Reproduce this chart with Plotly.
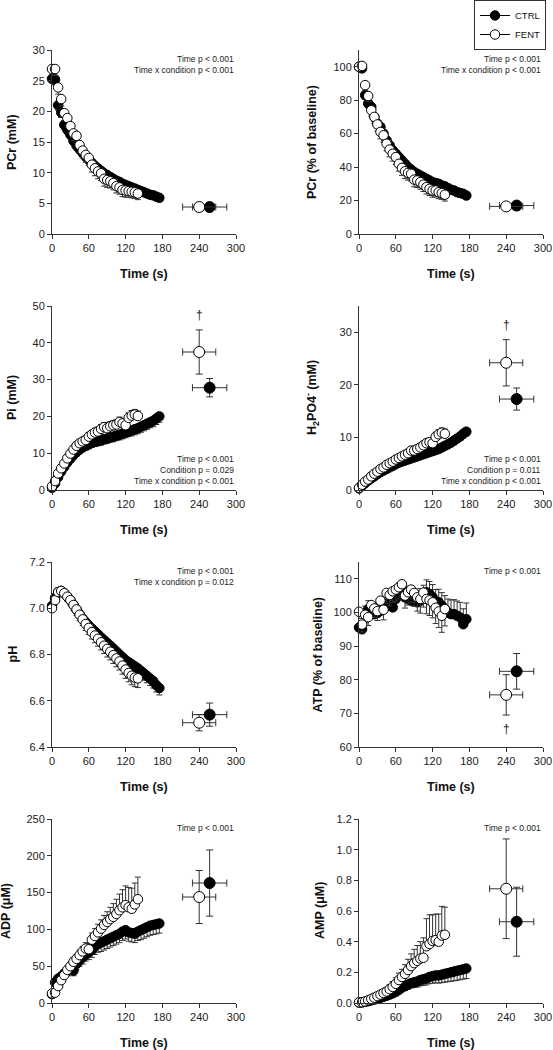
import plotly.graph_objects as go

W, H = 553, 1050

# ---------------- data ----------------
T_CTRL = [0, 5, 10, 15, 20, 25, 30, 35, 40, 45, 50, 55, 60, 65, 70, 75, 80, 85,
          90, 95, 100, 105, 110, 115, 120, 125, 130, 135, 140, 145, 150, 155, 160, 165, 170, 175]
T_FENT = [0, 5, 10, 15, 20, 25, 30, 35, 40, 45, 50, 55, 60, 65, 70, 75, 80, 85,
          90, 95, 100, 105, 110, 115, 120, 125, 130, 135, 140]
END_T_CTRL = 257
END_T_FENT = 240
END_TERR_CTRL = 28
END_TERR_FENT = 27
X_TICKS = [0, 60, 120, 180, 240, 300]

PCR_CTRL = [25.3, 25.2, 21.0, 19.8, 17.8, 17.0, 16.2, 15.2, 14.4, 13.8, 13.2, 12.6, 12.1, 11.6, 11.1, 10.7, 10.3, 9.9,
            9.6, 9.3, 9.0, 8.7, 8.5, 8.2, 8.0, 7.8, 7.6, 7.4, 7.2, 7.0, 6.8, 6.6, 6.4, 6.3, 6.1, 5.9]
PCR_CTRL_ERR = [0.9, 0.9, 0.8, 0.8, 0.8, 0.7, 0.7, 0.7, 0.7, 0.7, 0.6, 0.6, 0.6, 0.6, 0.6, 0.6, 0.6, 0.6,
                0.6, 0.6, 0.6, 0.6, 0.5, 0.5, 0.5, 0.5, 0.5, 0.5, 0.5, 0.5, 0.5, 0.5, 0.5, 0.5, 0.5, 0.5]
PCR_FENT = [26.9, 26.9, 23.9, 22.0, 19.7, 18.9, 17.6, 16.4, 16.0, 14.5, 13.6, 12.9, 12.4, 11.3, 10.7, 10.2, 9.9, 9.0,
            8.8, 8.6, 8.3, 7.8, 7.6, 7.2, 7.1, 7.0, 6.9, 6.8, 6.6]
PCR_FENT_ERR = [1.0, 1.0, 1.1, 1.1, 1.2, 1.2, 1.2, 1.2, 1.2, 1.2, 1.2, 1.2, 1.2, 1.2, 1.2, 1.2, 1.2, 1.2,
                1.2, 1.1, 1.1, 1.1, 1.1, 1.1, 1.1, 1.0, 1.0, 1.0, 1.0]
PCR_END = {"ctrl": (4.4, 0.6), "fent": (4.4, 0.6)}

PCT_CTRL = [100, 99, 83, 78, 76, 70, 66, 64, 60, 56, 53, 50, 48, 46, 44, 42, 40, 38.5,
            37, 36, 35, 34, 33, 32, 31, 30.5, 30, 29, 28.5, 27.5, 26.5, 26, 25, 24.5, 24, 23]
PCT_CTRL_ERR = [1.5, 2.0, 2.4, 2.5, 2.6, 2.6, 2.7, 2.7, 2.7, 2.8, 2.8, 2.8, 2.8, 2.8, 2.8, 2.8, 2.7, 2.7,
                2.7, 2.7, 2.6, 2.6, 2.6, 2.6, 2.5, 2.5, 2.5, 2.5, 2.4, 2.4, 2.4, 2.4, 2.3, 2.3, 2.3, 2.3]
PCT_FENT = [100, 100.5, 89, 82.5, 74, 70, 65.5, 61, 59, 54, 50.5, 48, 46, 42, 39.5, 37.5, 36.5, 36,
            32.5, 32, 31, 29.5, 28, 27, 26, 26, 25, 24.5, 23.5]
PCT_FENT_ERR = [2.0, 2.5, 3.0, 3.3, 3.6, 3.8, 4.0, 4.1, 4.2, 4.3, 4.3, 4.4, 4.4, 4.4, 4.4, 4.4, 4.3, 4.3,
                4.3, 4.2, 4.2, 4.1, 4.1, 4.0, 4.0, 3.9, 3.9, 3.8, 3.8]
PCT_END = {"ctrl": (17.0, 2.5), "fent": (16.5, 2.0)}

PI_CTRL = [0.6, 1.8, 3.5, 5.0, 6.3, 7.5, 8.5, 9.5, 10.3, 11.0, 11.6, 12.0, 12.4, 12.8, 13.1, 13.3, 13.5, 13.8,
           14.0, 14.3, 14.5, 14.8, 15.0, 15.3, 15.6, 15.9, 16.2, 16.5, 16.8, 17.2, 17.6, 18.0, 18.4, 18.8, 19.4, 20.0]
PI_CTRL_ERR = [0.3, 0.5, 0.7, 0.8, 0.9, 1.0, 1.0, 1.1, 1.1, 1.1, 1.2, 1.2, 1.2, 1.2, 1.3, 1.3, 1.3, 1.3,
               1.3, 1.3, 1.4, 1.4, 1.4, 1.4, 1.4, 1.4, 1.5, 1.5, 1.5, 1.5, 1.5, 1.5, 1.5, 1.6, 1.6, 1.6]
PI_FENT = [1.0, 2.4, 4.5, 5.9, 7.2, 8.6, 9.9, 11.0, 12.0, 12.7, 13.2, 13.6, 14.5, 15.1, 15.6, 15.9, 16.6, 17.1,
           16.8, 17.3, 17.6, 17.8, 18.5, 18.1, 17.6, 19.6, 20.2, 20.5, 20.1]
PI_FENT_ERR = [0.3, 0.5, 0.6, 0.7, 0.8, 0.9, 0.9, 1.0, 1.0, 1.0, 1.1, 1.1, 1.1, 1.1, 1.2, 1.2, 1.2, 1.2,
               1.2, 1.3, 1.3, 1.3, 1.3, 1.3, 1.4, 1.4, 1.4, 1.4, 1.4]
PI_END = {"ctrl": (27.8, 2.5), "fent": (37.5, 6.0)}

H2_CTRL = [0.3, 0.8, 1.3, 1.8, 2.2, 2.6, 3.0, 3.4, 3.7, 4.0, 4.3, 4.6, 4.9, 5.2, 5.4, 5.6, 5.8, 6.0,
           6.2, 6.4, 6.6, 6.8, 7.0, 7.2, 7.4, 7.6, 7.8, 8.1, 8.4, 8.7, 9.0, 9.4, 9.8, 10.2, 10.7, 11.1]
H2_CTRL_ERR = [0.1, 0.2, 0.2, 0.3, 0.3, 0.3, 0.4, 0.4, 0.4, 0.4, 0.5, 0.5, 0.5, 0.5, 0.5, 0.5, 0.6, 0.6,
               0.6, 0.6, 0.6, 0.6, 0.6, 0.6, 0.7, 0.7, 0.7, 0.7, 0.7, 0.7, 0.7, 0.8, 0.8, 0.8, 0.8, 0.8]
H2_FENT = [0.4, 1.0, 1.6, 2.0, 2.6, 3.1, 3.5, 4.0, 4.3, 4.8, 5.1, 5.4, 5.8, 6.1, 6.4, 6.7, 7.0, 7.5,
           7.5, 7.8, 8.1, 8.5, 8.9, 9.1, 8.9, 10.1, 10.6, 10.9, 10.7]
H2_FENT_ERR = [0.1, 0.2, 0.2, 0.3, 0.3, 0.3, 0.4, 0.4, 0.4, 0.5, 0.5, 0.5, 0.5, 0.6, 0.6, 0.6, 0.6, 0.7,
               0.7, 0.7, 0.7, 0.8, 0.8, 0.8, 0.8, 0.9, 0.9, 0.9, 0.9]
H2_END = {"ctrl": (17.3, 2.1), "fent": (24.2, 4.4)}

PH_CTRL = [7.010, 7.045, 7.070, 7.075, 7.065, 7.050, 7.035, 7.015, 6.995, 6.975, 6.955, 6.940, 6.925, 6.912,
           6.900, 6.887, 6.874, 6.862, 6.850, 6.838, 6.826, 6.813, 6.800, 6.788, 6.776, 6.767, 6.758, 6.749,
           6.740, 6.729, 6.718, 6.707, 6.696, 6.685, 6.668, 6.655]
PH_CTRL_ERR = [0.010, 0.010, 0.010, 0.012, 0.012, 0.013, 0.014, 0.015, 0.016, 0.017, 0.018, 0.019, 0.020, 0.020,
               0.021, 0.021, 0.022, 0.022, 0.023, 0.023, 0.024, 0.024, 0.025, 0.025, 0.026, 0.026, 0.027, 0.027,
               0.028, 0.028, 0.029, 0.029, 0.030, 0.030, 0.030, 0.030]
PH_FENT = [7.000, 7.035, 7.070, 7.075, 7.065, 7.050, 7.035, 7.014, 6.995, 6.972, 6.952, 6.932, 6.915, 6.897,
           6.882, 6.868, 6.853, 6.838, 6.824, 6.812, 6.797, 6.783, 6.770, 6.752, 6.735, 6.720, 6.708, 6.700, 6.697]
PH_FENT_ERR = [0.010, 0.012, 0.014, 0.016, 0.018, 0.020, 0.022, 0.024, 0.025, 0.026, 0.027, 0.028, 0.029, 0.030,
               0.031, 0.032, 0.033, 0.034, 0.035, 0.035, 0.036, 0.036, 0.037, 0.037, 0.038, 0.038, 0.039, 0.039, 0.040]
PH_END = {"ctrl": (6.54, 0.05), "fent": (6.505, 0.035)}

ATP_CTRL = [95.5, 95.0, 99.5, 101.0, 100.0, 99.5, 99.8, 100.5, 101.2, 102.5, 102.0, 101.5, 104.0, 105.5,
            106.0, 104.5, 104.0, 103.5, 103.5, 103.0, 103.5, 104.5, 106.0, 105.5, 104.5, 103.0, 103.0, 102.0,
            101.0, 100.0, 99.5, 99.5, 99.0, 98.5, 96.5, 98.0]
ATP_CTRL_ERR = [2.0, 2.2, 2.4, 2.5, 2.6, 2.7, 2.8, 2.9, 3.0, 3.0, 3.1, 3.1, 3.2, 3.2, 3.3, 3.3, 3.4, 3.4,
                3.5, 3.5, 3.6, 3.6, 3.7, 3.7, 3.8, 3.8, 3.9, 3.9, 4.0, 4.0, 4.2, 4.3, 4.4, 4.5, 4.6, 4.8]
ATP_FENT = [100.2, 96.4, 99.3, 98.6, 102.2, 101.2, 100.4, 103.5, 100.8, 105.8, 105.2, 106.3, 106.8, 107.5,
            108.4, 105.0, 106.0, 106.8, 105.8, 104.5, 104.0, 105.9, 104.0, 103.6, 103.0, 101.4, 100.3, 99.0, 101.0]
ATP_FENT_ERR = [2.0, 2.2, 2.4, 2.5, 2.6, 2.7, 2.8, 2.9, 3.0, 3.1, 3.2, 3.3, 3.4, 3.5, 3.6, 3.7, 3.8, 3.9,
                4.0, 4.1, 4.2, 4.3, 4.4, 4.5, 4.6, 4.7, 4.8, 4.9, 5.0]
ATP_END = {"ctrl": (82.5, 5.3), "fent": (75.5, 6.0)}

ADP_CTRL = [12, 28, 33, 36, 40, 43, 46, 44, 53, 58, 62, 66, 69, 72, 77, 80, 82, 84,
            86, 88, 90, 92, 94, 97, 99, 96, 95, 94, 97, 99, 101, 103, 105, 106, 107, 108]
ADP_CTRL_ERR = [2, 4, 5, 5, 6, 6, 7, 7, 8, 8, 9, 9, 10, 10, 11, 11, 12, 12,
                12, 12, 12, 12, 12, 12, 12, 12, 12, 12, 12, 13, 13, 13, 13, 13, 13, 13]
ADP_FENT = [13, 14, 23, 31, 38, 45, 50, 56, 60, 65, 70, 74, 73, 86, 91, 96, 101, 106,
            110, 114, 117, 121, 126, 130, 133, 130, 128, 134, 141]
ADP_FENT_ERR = [2, 2, 3, 4, 4, 5, 5, 6, 6, 7, 7, 8, 8, 9, 10, 11, 12, 13,
                14, 16, 18, 20, 22, 24, 26, 27, 28, 29, 30]
ADP_END = {"ctrl": (163, 45), "fent": (144, 36)}

AMP_CTRL = [0.002, 0.004, 0.008, 0.012, 0.017, 0.022, 0.028, 0.034, 0.040, 0.047, 0.055, 0.063, 0.072, 0.085,
            0.100, 0.110, 0.120, 0.130, 0.135, 0.140, 0.150, 0.155, 0.160, 0.170, 0.175, 0.180, 0.180, 0.185,
            0.190, 0.195, 0.200, 0.205, 0.210, 0.215, 0.220, 0.225]
AMP_CTRL_ERR = [0.001, 0.002, 0.003, 0.004, 0.005, 0.006, 0.008, 0.010, 0.012, 0.014, 0.016, 0.018, 0.020, 0.022,
                0.025, 0.028, 0.030, 0.032, 0.034, 0.036, 0.038, 0.040, 0.042, 0.044, 0.046, 0.048, 0.050, 0.052,
                0.054, 0.056, 0.058, 0.060, 0.062, 0.063, 0.064, 0.065]
AMP_FENT = [0.004, 0.005, 0.010, 0.018, 0.027, 0.035, 0.045, 0.055, 0.065, 0.075, 0.090, 0.105, 0.125, 0.150,
            0.170, 0.190, 0.215, 0.240, 0.260, 0.275, 0.290, 0.295, 0.370, 0.385, 0.405, 0.410, 0.400, 0.440, 0.445]
AMP_FENT_ERR = [0.002, 0.003, 0.005, 0.008, 0.010, 0.012, 0.015, 0.018, 0.020, 0.025, 0.030, 0.035, 0.040, 0.045,
                0.050, 0.060, 0.070, 0.080, 0.090, 0.100, 0.110, 0.130, 0.180, 0.190, 0.170, 0.170, 0.180, 0.190, 0.180]
AMP_END = {"ctrl": (0.53, 0.225), "fent": (0.745, 0.325)}

# ---------------- layout helpers ----------------
FONT = "Arial, Liberation Sans, sans-serif"
AX_COL = "#333333"
COL_PX = [(52, 236), (359, 543)]
ROW_PX = [(50, 234), (306, 490), (562, 747), (819, 1003)]

ST1 = "Time p < 0.001"
ST2 = "Time x condition p < 0.001"

PANELS = [
    dict(r=0, c=0, ytitle="<b>PCr (mM)</b>", ytx=12, yrange=[0, 30], dtick=5, fmt="",
         ctrl=PCR_CTRL, cerr=PCR_CTRL_ERR, cdir="down", fent=PCR_FENT, ferr=PCR_FENT_ERR, fdir="down",
         end=PCR_END, stats=[ST1, ST2], spos="top", dagger=None),
    dict(r=0, c=1, ytitle="<b>PCr (% of baseline)</b>", ytx=312, yrange=[0, 110], dtick=20, fmt="",
         ctrl=PCT_CTRL, cerr=PCT_CTRL_ERR, cdir="down", fent=PCT_FENT, ferr=PCT_FENT_ERR, fdir="down",
         end=PCT_END, stats=[ST1, ST2], spos="top", dagger=None),
    dict(r=1, c=0, ytitle="<b>Pi (mM)</b>", ytx=12, yrange=[0, 50], dtick=10, fmt="",
         ctrl=PI_CTRL, cerr=PI_CTRL_ERR, cdir="down", fent=PI_FENT, ferr=PI_FENT_ERR, fdir="up",
         end=PI_END, stats=[ST1, "Condition p = 0.029", ST2], spos="bottom", dagger=47.5),
    dict(r=1, c=1, ytitle="<b>H<sub>2</sub>PO4<sup>-</sup> (mM)</b>", ytx=312, yrange=[0, 35], dtick=10, fmt="",
         ctrl=H2_CTRL, cerr=H2_CTRL_ERR, cdir="down", fent=H2_FENT, ferr=H2_FENT_ERR, fdir="up",
         end=H2_END, stats=[ST1, "Condition p = 0.011", ST2], spos="bottom", dagger=31.3),
    dict(r=2, c=0, ytitle="<b>pH</b>", ytx=12, yrange=[6.4, 7.2], dtick=0.2, fmt=".1f",
         ctrl=PH_CTRL, cerr=PH_CTRL_ERR, cdir="down", fent=PH_FENT, ferr=PH_FENT_ERR, fdir="down",
         end=PH_END, stats=[ST1, "Time x condition p = 0.012"], spos="top", dagger=None),
    dict(r=2, c=1, ytitle="<b>ATP (% of baseline)</b>", ytx=317, yrange=[60, 115], dtick=10, fmt="",
         ctrl=ATP_CTRL, cerr=ATP_CTRL_ERR, cdir="up", fent=ATP_FENT, ferr=ATP_FENT_ERR, fdir="down",
         end=ATP_END, stats=[ST1], spos="top", dagger=65.5),
    dict(r=3, c=0, ytitle="<b>ADP (μM)</b>", ytx=6, yrange=[0, 250], dtick=50, fmt="",
         ctrl=ADP_CTRL, cerr=ADP_CTRL_ERR, cdir="down", fent=ADP_FENT, ferr=ADP_FENT_ERR, fdir="up",
         end=ADP_END, stats=[ST1], spos="top", dagger=None),
    dict(r=3, c=1, ytitle="<b>AMP (μM)</b>", ytx=320, yrange=[0, 1.2], dtick=0.2, fmt=".1f",
         ctrl=AMP_CTRL, cerr=AMP_CTRL_ERR, cdir="down", fent=AMP_FENT, ferr=AMP_FENT_ERR, fdir="up",
         end=AMP_END, stats=[ST1], spos="top", dagger=None),
]


def px_x(p):
    return p / W


def px_y(p):
    return 1 - p / H


def err_dict(errs, direction):
    zeros = [0 for _ in errs]
    up = errs if direction == "up" else zeros
    down = errs if direction == "down" else zeros
    return dict(type="data", symmetric=False, array=up, arrayminus=down,
                color="#333333", thickness=1, width=3)


fig = go.Figure()
layout = dict(width=W, height=H, margin=dict(l=0, r=0, t=0, b=0, pad=0, autoexpand=False),
              paper_bgcolor="white", plot_bgcolor="white",
              font=dict(family=FONT, color="#111111"), annotations=[])

for i, p in enumerate(PANELS):
    sfx = "" if i == 0 else str(i + 1)
    xa, ya = "x" + sfx, "y" + sfx
    x0, x1 = COL_PX[p["c"]]
    y0, y1 = ROW_PX[p["r"]]
    layout["xaxis" + sfx] = dict(
        domain=[px_x(x0), px_x(x1)], anchor=ya, range=[0, 300], tickvals=X_TICKS,
        showline=True, linecolor=AX_COL, linewidth=1, ticks="outside", ticklen=4,
        tickcolor=AX_COL, showgrid=False, zeroline=False,
        tickfont=dict(size=11, family=FONT, color="#222222"))
    layout["yaxis" + sfx] = dict(
        domain=[px_y(y1), px_y(y0)], anchor=xa, range=p["yrange"], dtick=p["dtick"],
        tick0=p["yrange"][0], tickformat=p["fmt"],
        showline=True, linecolor=AX_COL, linewidth=1, ticks="outside", ticklen=4,
        tickcolor=AX_COL, showgrid=False, zeroline=False,
        tickfont=dict(size=11, family=FONT, color="#222222"))

    # time courses
    fig.add_trace(go.Scatter(
        x=T_CTRL, y=p["ctrl"], mode="markers", xaxis=xa, yaxis=ya, showlegend=False,
        cliponaxis=False, error_y=err_dict(p["cerr"], p["cdir"]),
        marker=dict(symbol="circle", size=9.5, color="black", line=dict(color="black", width=1))))
    fig.add_trace(go.Scatter(
        x=T_FENT, y=p["fent"], mode="markers", xaxis=xa, yaxis=ya, showlegend=False,
        cliponaxis=False, error_y=err_dict(p["ferr"], p["fdir"]),
        marker=dict(symbol="circle", size=9.5, color="white", line=dict(color="black", width=1))))
    # end-exercise points
    cm, ce = p["end"]["ctrl"]
    fmn, fe = p["end"]["fent"]
    fig.add_trace(go.Scatter(
        x=[END_T_CTRL], y=[cm], mode="markers", xaxis=xa, yaxis=ya, showlegend=False, cliponaxis=False,
        error_y=dict(type="data", array=[ce], color="#333333", thickness=1, width=3.5),
        error_x=dict(type="data", array=[END_TERR_CTRL], color="#333333", thickness=1, width=3.5),
        marker=dict(symbol="circle", size=11, color="black", line=dict(color="black", width=1))))
    fig.add_trace(go.Scatter(
        x=[END_T_FENT], y=[fmn], mode="markers", xaxis=xa, yaxis=ya, showlegend=False, cliponaxis=False,
        error_y=dict(type="data", array=[fe], color="#333333", thickness=1, width=3.5),
        error_x=dict(type="data", array=[END_TERR_FENT], color="#333333", thickness=1, width=3.5),
        marker=dict(symbol="circle", size=11, color="white", line=dict(color="black", width=1))))

    # axis titles
    layout["annotations"].append(dict(
        text="<b>Time (s)</b>", xref="paper", yref="paper", x=px_x((x0 + x1) / 2), y=px_y(y1 + 40),
        xanchor="center", yanchor="middle", showarrow=False, font=dict(size=12.5, family=FONT, color="#111111")))
    layout["annotations"].append(dict(
        text=p["ytitle"], xref="paper", yref="paper", x=px_x(p["ytx"]), y=px_y((y0 + y1) / 2),
        xanchor="center", yanchor="middle", textangle=-90, showarrow=False,
        font=dict(size=12.5, family=FONT, color="#111111")))

    # statistics text
    n = len(p["stats"])
    for k, line in enumerate(p["stats"]):
        if p["spos"] == "top":
            yc = y0 + 9 + 11 * k
        else:
            yc = y1 - 9 - 11 * (n - 1 - k)
        layout["annotations"].append(dict(
            text=line, xref="paper", yref="paper", x=px_x(x1), y=px_y(yc),
            xanchor="right", yanchor="middle", showarrow=False,
            font=dict(size=8.5, family=FONT, color="#222222")))

    if p["dagger"] is not None:
        layout["annotations"].append(dict(
            text="†", xref=xa, yref=ya, x=END_T_FENT, y=p["dagger"], xanchor="center", yanchor="middle",
            showarrow=False, font=dict(size=12, family=FONT, color="#222222")))

# legend entries
fig.add_trace(go.Scatter(x=[None], y=[None], mode="lines+markers", name="CTRL",
                         line=dict(color="black", width=1),
                         marker=dict(symbol="circle", size=9.5, color="black", line=dict(color="black", width=1))))
fig.add_trace(go.Scatter(x=[None], y=[None], mode="lines+markers", name="FENT",
                         line=dict(color="black", width=1),
                         marker=dict(symbol="circle", size=9.5, color="white", line=dict(color="black", width=1))))

layout["showlegend"] = True
layout["legend"] = dict(x=px_x(546), y=1.0, xanchor="right", yanchor="top",
                        bordercolor="#333333", borderwidth=1, bgcolor="white",
                        font=dict(size=9.5, family=FONT, color="#111111"),
                        itemwidth=30, tracegroupgap=0)

fig.update_layout(**layout)
fig.write_html("out.html", config={"displayModeBar": False},
               post_script="document.body.style.margin='0';document.body.style.overflow='hidden';")
